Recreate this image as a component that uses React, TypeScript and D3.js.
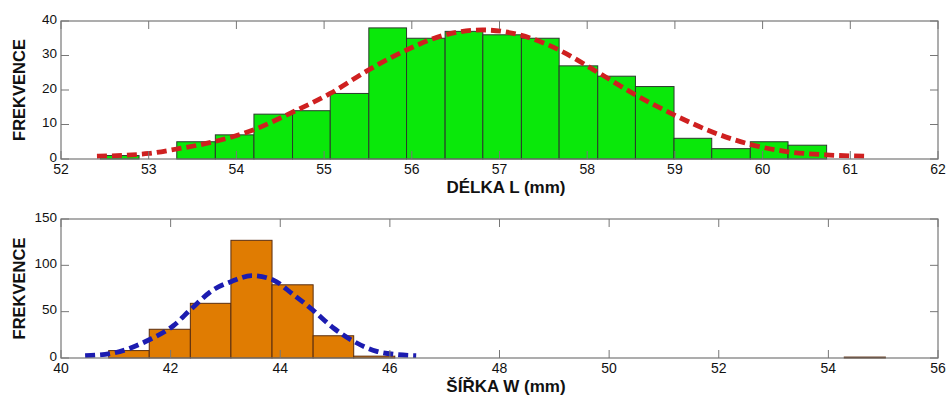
import React from "react";
import * as d3 from "d3";

// DÉLKA L histogram (bin edges + counts) and fitted curve
const lengthEdges = [52.45, 52.89, 53.32, 53.76, 54.2, 54.64, 55.07, 55.51, 55.94, 56.38, 56.81, 57.25, 57.68, 58.12, 58.55, 58.99, 59.42, 59.86, 60.29, 60.73];
const lengthCounts = [1, 0, 5, 7, 13, 14, 19, 38, 35, 37, 36, 35, 27, 24, 21, 6, 3, 5, 4];
const lengthFit: [number, number][] = [
  [52.41, 0.8], [53.0, 1.6], [53.32, 2.9], [53.74, 5.0], [54.19, 8.4], [54.65, 13.7], [55.07, 19],
  [55.52, 26], [55.94, 31.6], [56.37, 35.9], [56.81, 37.4], [57.24, 35.9], [57.68, 31.6], [58.11, 25.3],
  [58.55, 18.6], [58.99, 12.8], [59.42, 7.9], [59.85, 4.3], [60.29, 2.1], [60.72, 1.2], [61.17, 0.8],
];
const lengthXTicks = [52, 53, 54, 55, 56, 57, 58, 59, 60, 61, 62];
const lengthYTicks = [0, 10, 20, 30, 40];

// ŠÍŘKA W histogram and fitted curve
const widthEdges = [40.87, 41.61, 42.36, 43.1, 43.85, 44.6, 45.34, 46.09, 46.83, 47.58, 48.32, 49.07, 49.82, 50.56, 51.31, 52.05, 52.8, 53.55, 54.29, 55.04];
const widthCounts = [8, 31, 59, 127, 79, 24, 2, 0, 0, 0, 0, 0, 0, 0, 0, 0, 0, 0, 1];
const widthFit: [number, number][] = [
  [40.44, 2.5], [40.89, 4.6], [41.61, 19.7], [42.05, 34.8], [42.36, 52], [42.78, 73.7], [43.11, 82.6],
  [43.48, 88.8], [43.86, 84.5], [44.24, 68.3], [44.59, 52], [44.97, 32.4], [45.34, 18], [45.76, 7.2],
  [46.09, 3.9], [46.48, 2.5],
];
const widthXTicks = [40, 42, 44, 46, 48, 50, 52, 54, 56];
const widthYTicks = [0, 50, 100, 150];

const FONT = "'Liberation Sans', Arial, sans-serif";
const AXIS = "#777";

interface PanelProps {
  top: number;
  height: number;
  xDomain: [number, number];
  yDomain: [number, number];
  edges: number[];
  counts: number[];
  fit: [number, number][];
  xTicks: number[];
  yTicks: number[];
  barFill: string;
  barStroke: string;
  curveColor: string;
  xLabel: string;
}

function Panel(p: PanelProps) {
  const left = 61;
  const right = 938;
  const bottom = p.top + p.height;
  const x = d3.scaleLinear().domain(p.xDomain).range([left, right]);
  const y = d3.scaleLinear().domain(p.yDomain).range([bottom, p.top]);
  const line = d3
    .line<[number, number]>()
    .x((d) => x(d[0]))
    .y((d) => y(d[1]))
    .curve(d3.curveMonotoneX);
  const tick = 8;

  return (
    <g>
      {/* Bars */}
      {p.counts.map((c, i) =>
        c > 0 ? (
          <rect
            key={i}
            x={x(p.edges[i])}
            y={y(c)}
            width={x(p.edges[i + 1]) - x(p.edges[i])}
            height={bottom - y(c)}
            fill={p.barFill}
            stroke={p.barStroke}
            strokeWidth={1}
          />
        ) : null
      )}

      {/* Fitted curve */}
      <path d={line(p.fit) || ""} fill="none" stroke={p.curveColor} strokeWidth={4.8} strokeDasharray="10,5" />

      {/* Box */}
      <rect x={left} y={p.top} width={right - left} height={p.height} fill="none" stroke={AXIS} strokeWidth={1.2} />

      {/* X ticks */}
      {p.xTicks.map((t) => (
        <g key={t}>
          <line x1={x(t)} x2={x(t)} y1={bottom} y2={bottom - tick} stroke={AXIS} />
          <line x1={x(t)} x2={x(t)} y1={p.top} y2={p.top + tick} stroke={AXIS} />
          <text x={x(t)} y={bottom + 15} fontSize={14} fontFamily={FONT} fill="#111" textAnchor="middle">
            {t}
          </text>
        </g>
      ))}

      {/* Y ticks */}
      {p.yTicks.map((t) => (
        <g key={t}>
          <line x1={left} x2={left + tick} y1={y(t)} y2={y(t)} stroke={AXIS} />
          <line x1={right} x2={right - tick} y1={y(t)} y2={y(t)} stroke={AXIS} />
          <text x={left - 4} y={y(t) - 1} fontSize={13.5} fontFamily={FONT} fill="#111" textAnchor="end" dominantBaseline="middle">
            {t}
          </text>
        </g>
      ))}

      {/* Labels */}
      <text
        transform={`translate(25,${(p.top + bottom) / 2}) rotate(-90)`}
        fontSize={16.5}
        fontWeight="bold"
        fontFamily={FONT}
        fill="#111"
        textAnchor="middle"
      >
        FREKVENCE
      </text>
      <text x={506} y={bottom + 34} fontSize={17} fontWeight="bold" fontFamily={FONT} fill="#111" textAnchor="middle">
        {p.xLabel}
      </text>
    </g>
  );
}

export default function App() {
  return (
    <div style={{ position: "fixed", left: 0, top: 0, background: "#fff" }}>
      <svg width={947} height={397} style={{ display: "block" }}>
        <rect width={947} height={397} fill="#fff" />
        <Panel
          top={21}
          height={138}
          xDomain={[52, 62]}
          yDomain={[0, 40]}
          edges={lengthEdges}
          counts={lengthCounts}
          fit={lengthFit}
          xTicks={lengthXTicks}
          yTicks={lengthYTicks}
          barFill="#0ae80a"
          barStroke="#2c3a2c"
          curveColor="#cf2020"
          xLabel="DÉLKA L (mm)"
        />
        <Panel
          top={219}
          height={139}
          xDomain={[40, 56]}
          yDomain={[0, 150]}
          edges={widthEdges}
          counts={widthCounts}
          fit={widthFit}
          xTicks={widthXTicks}
          yTicks={widthYTicks}
          barFill="#e07c02"
          barStroke="#5a2e10"
          curveColor="#1c1cb0"
          xLabel="ŠÍŘKA W (mm)"
        />
      </svg>
    </div>
  );
}
